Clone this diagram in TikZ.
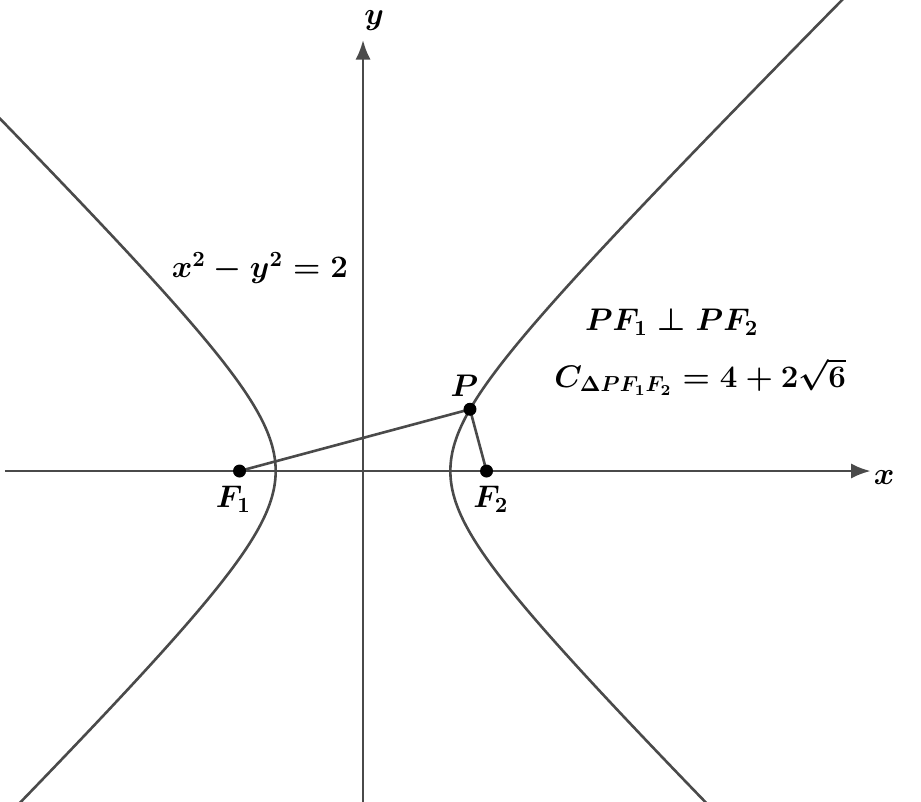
\documentclass[tikz,border=0pt]{standalone}
\usepackage{amsmath, amssymb}
\usepackage{tikz}
\usetikzlibrary{arrows.meta}
\definecolor{curvegray}{HTML}{4A4A4A}

\begin{document}
\begin{tikzpicture}[>=latex, scale=1.0,
    line width=1.2pt,
    curve/.style={curvegray, line width=1.2pt},
    lbl/.style={font=\fontsize{14}{17}\selectfont\boldmath, inner sep=1pt}]
  \useasboundingbox (-5.879, -5.344) rectangle (9.036, 7.628);
  \clip (-5.879, -5.344) rectangle (9.036, 7.628);

  % Axes
  \coordinate (xl) at (-5.80, 0);
  \coordinate (xr) at (8.22, 0);
  \coordinate (yb) at (0, -5.40);
  \coordinate (yt) at (0, 6.98);
  \draw[curve, ->, >={Latex[length=9pt, width=7pt]}] (xl) -- (xr);
  \draw[curve, ->, >={Latex[length=9pt, width=7pt]}] (yb) -- (yt);
  \node[lbl] (xlab) at (8.44, -0.10) {$x$};
  \node[lbl] (ylab) at (0.18, 7.30) {$y$};

  % Hyperbola x^2 - y^2 = 2
  \draw[curve, domain=-5.6:7.9, samples=120, smooth]
    plot ({sqrt(2+\x*\x)}, \x);
  \draw[curve, domain=-5.6:7.9, samples=120, smooth]
    plot ({-sqrt(2+\x*\x)}, \x);

  % Foci and point P
  \coordinate (F1) at (-2, 0);
  \coordinate (F2) at (2, 0);
  \coordinate (P) at ({sqrt(3)}, 1);
  \draw[curve] (F1) -- (P) -- (F2);
  \foreach \p in {F1, F2, P} {
    \fill (\p) circle (0.105);
  }

  % Labels
  \node[lbl] (F1lab) at (-2.10, -0.46) {$F_1$};
  \node[lbl] (F2lab) at (2.07, -0.46) {$F_2$};
  \node[lbl] (Plab) at (1.64, 1.38) {$P$};
  \node[lbl] (eq) at (-1.67, 3.29) {$x^2-y^2=2$};
  \node[lbl] (perp) at (5.00, 2.41) {$PF_1\perp PF_2$};
  \node[lbl] (perim) at (5.46, 1.53) {$C_{\Delta PF_1F_2}=4+2\sqrt{6}$};
\end{tikzpicture}
\end{document}
